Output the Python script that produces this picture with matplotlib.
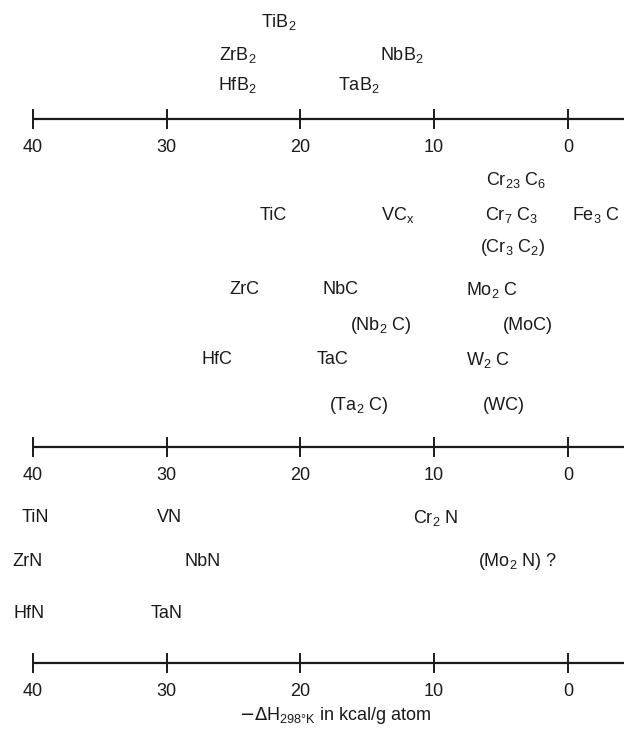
import matplotlib.pyplot as plt

plt.rcParams['font.family'] = ['Liberation Sans', 'DejaVu Sans']

# -dH(298K) in kcal/g atom
boride_names = ['TiB$_\\mathregular{2}$', 'ZrB$_\\mathregular{2}$', 'HfB$_\\mathregular{2}$',
                'NbB$_\\mathregular{2}$', 'TaB$_\\mathregular{2}$']
boride_values = [21.6, 24.7, 24.7, 12.4, 15.6]
boride_rows = [0, 1, 2, 1, 2]

carbide_names = ['Cr$_\\mathregular{23}$ C$_\\mathregular{6}$', 'TiC', 'VC$_\\mathregular{x}$',
                 'Cr$_\\mathregular{7}$ C$_\\mathregular{3}$', 'Fe$_\\mathregular{3}$ C',
                 '(Cr$_\\mathregular{3}$ C$_\\mathregular{2}$)', 'ZrC', 'NbC', 'Mo$_\\mathregular{2}$ C',
                 '(Nb$_\\mathregular{2}$ C)', '(MoC)', 'HfC', 'TaC', 'W$_\\mathregular{2}$ C',
                 '(Ta$_\\mathregular{2}$ C)', '(WC)']
carbide_values = [3.9, 22.0, 12.7, 4.2, -2.1, 4.1, 24.2, 17.0, 5.7, 14.0, 3.0, 26.2, 17.6, 6.0, 15.6, 4.8]
carbide_rows = [0, 1, 1, 1, 1, 2, 3, 3, 3, 4, 4, 5, 5, 5, 6, 6]

nitride_names = ['TiN', 'VN', 'Cr$_\\mathregular{2}$ N', 'ZrN', 'NbN',
                 '(Mo$_\\mathregular{2}$ N) ?', 'HfN', 'TaN']
nitride_values = [39.8, 29.8, 9.9, 40.4, 27.3, 3.8, 40.3, 30.0]
nitride_rows = [0, 0, 0, 1, 1, 1, 2, 2]

tick_values = [40, 30, 20, 10, 0]

# vertical layout (figure pixels from the top)
sections = [
    (boride_names, boride_values, boride_rows, [22, 55, 85], 119),
    (carbide_names, carbide_values, carbide_rows, [180, 215, 248, 290, 325, 360, 405], 447),
    (nitride_names, nitride_values, nitride_rows, [518, 562, 613], 663),
]

fig = plt.figure(figsize=(6.24, 7.41), dpi=100)
ax = fig.add_axes([0, 0, 1, 1])
ax.set_xlim(42.45, -4.19)
ax.set_ylim(741, 0)
ax.axis('off')

ink = '#1a1a1a'
for names, values, rows, row_y, axis_y in sections:
    for name, v, r in zip(names, values, rows):
        ax.text(v, row_y[r], name, ha='center', va='center', fontsize=13, color=ink)
    # number line
    ax.hlines(axis_y, tick_values[0], -4.19, color=ink, lw=1.6)
    ax.vlines(tick_values, axis_y - 10, axis_y + 10, color=ink, lw=1.4)
    for t in tick_values:
        ax.text(t, axis_y + 28, str(t), ha='center', va='center', fontsize=13, color=ink)

ax.text(17.4, 716, '$-\\Delta$H$_\\mathregular{298°K}$ in kcal/g atom',
        ha='center', va='center', fontsize=13, color=ink)

fig.savefig('out.png', dpi=100)
